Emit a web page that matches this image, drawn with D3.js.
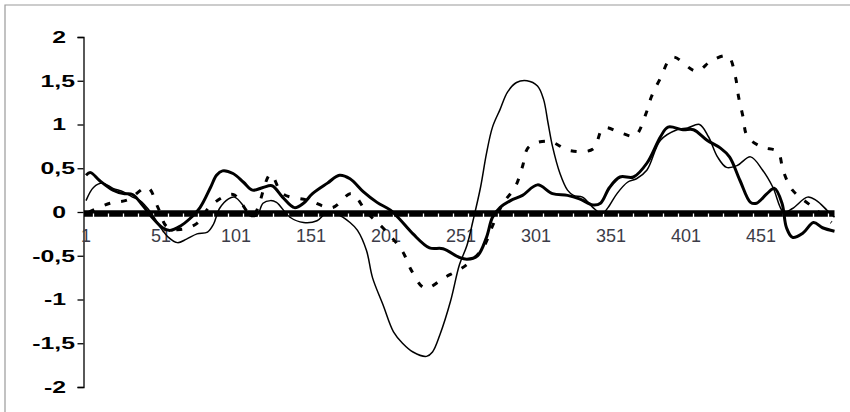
<!DOCTYPE html>
<html>
<head>
<meta charset="utf-8">
<script src="https://cdn.jsdelivr.net/npm/d3@7"></script>
<style>
    body { margin: 0; background: #fff; }
    svg { display: block; }
</style>
</head>
<body>
<div id="chart"></div>
<script>
// values, [position, value]
const thinLine = [
    [1, 0.13], [6, 0.28], [12, 0.33], [19, 0.27], [26, 0.23], [32, 0.17], [37, 0.13], [44, 0],
    [50, -0.16], [56, -0.29], [62, -0.35], [68, -0.31], [75, -0.25], [82, -0.23], [86, -0.14],
    [90, 0.04], [96, 0.15], [100, 0.17], [106, 0.07], [110, -0.04], [115, -0.04], [119, 0.1],
    [124, 0.13], [128, 0.11], [137, -0.06], [146, -0.12], [155, -0.1], [162, 0], [168, -0.02],
    [177, -0.12], [182, -0.21], [188, -0.44], [192, -0.75], [199, -1.06], [206, -1.37],
    [212, -1.5], [219, -1.6], [228, -1.65], [232, -1.6], [237, -1.4], [244, -1.02], [250, -0.6],
    [255, -0.38], [259, -0.1], [264, 0.28], [268, 0.67], [272, 0.97], [277, 1.17], [282, 1.37],
    [288, 1.48], [295, 1.5], [302, 1.44], [306, 1.29], [309, 1.02], [312, 0.75], [317, 0.44],
    [322, 0.25], [326, 0.19], [332, 0.17], [339, 0.05], [345, -0.02], [349, 0.05], [355, 0.21],
    [362, 0.34], [368, 0.38], [375, 0.48], [384, 0.82], [395, 0.94], [402, 0.96], [410, 1.0],
    [416, 0.86], [422, 0.63], [428, 0.51], [435, 0.53], [444, 0.63], [452, 0.48], [459, 0.28],
    [466, 0], [472, 0.04], [482, 0.17], [488, 0.13], [495, 0.02], [500, -0.06]
];

const thickLine = [
    [1, 0.42], [4, 0.45], [10, 0.36], [19, 0.25], [26, 0.21], [32, 0.2], [39, 0.07], [45, -0.06],
    [52, -0.18], [57, -0.21], [64, -0.16], [70, -0.08], [77, 0.05], [84, 0.28], [88, 0.42],
    [92, 0.47], [99, 0.44], [106, 0.34], [112, 0.25], [119, 0.28], [125, 0.3], [132, 0.17],
    [140, 0.05], [146, 0.1], [152, 0.21], [162, 0.33], [170, 0.42], [177, 0.38], [186, 0.23],
    [195, 0.11], [204, 0.02], [210, -0.08], [219, -0.25], [230, -0.41], [239, -0.42],
    [250, -0.52], [255, -0.54], [262, -0.5], [268, -0.29], [272, -0.06], [277, 0.05], [284, 0.13],
    [292, 0.19], [302, 0.31], [312, 0.21], [322, 0.19], [330, 0.15], [339, 0.08], [344, 0.1],
    [350, 0.28], [357, 0.4], [366, 0.4], [375, 0.56], [384, 0.86], [389, 0.97], [399, 0.94],
    [406, 0.94], [415, 0.82], [424, 0.73], [430, 0.63], [437, 0.36], [444, 0.11], [448, 0.1],
    [455, 0.21], [460, 0.27], [465, 0.1], [468, -0.18], [472, -0.29], [479, -0.24], [486, -0.12],
    [492, -0.18], [500, -0.22]
];

const dashedLine = [
    [3, 0], [17, 0.1], [29, 0.14], [42, 0.28], [49, 0.05], [55, -0.17], [64, -0.2], [75, -0.13],
    [84, 0.07], [99, 0.2], [112, -0.04], [124, 0.43], [132, 0.21], [150, 0.13], [165, 0.05],
    [178, 0.21], [188, 0], [200, -0.2], [212, -0.45], [218, -0.67], [227, -0.87], [240, -0.75],
    [255, -0.6], [266, -0.4], [272, -0.16], [279, 0.1], [287, 0.28], [292, 0.52], [296, 0.74],
    [309, 0.81], [324, 0.7], [339, 0.72], [346, 0.96], [358, 0.9], [367, 0.87], [374, 1.11],
    [378, 1.32], [384, 1.53], [392, 1.77], [408, 1.61], [418, 1.73], [429, 1.78], [434, 1.54],
    [436, 1.32], [439, 1.09], [442, 0.86], [452, 0.74], [462, 0.69], [466, 0.46], [472, 0.25],
    [486, 0.05], [498, -0.12]
];

const xTickLabels = [1, 51, 101, 151, 201, 251, 301, 351, 401, 451];
const yTicks = [2, 1.5, 1, 0.5, 0, -0.5, -1, -1.5, -2];

function createChart() {
    const width = 850;
    const height = 412;

    const svg = d3.select('#chart')
        .append('svg')
        .attr('width', width)
        .attr('height', height);

    // outer frame (only top and left show in the picture)
    svg.append('path')
        .attr('d', `M5,${height} V5 H${width}`)
        .attr('fill', 'none')
        .attr('stroke', '#9a9a9a')
        .attr('stroke-width', 1.2);

    const xScale = d3.scaleLinear().domain([1, 500]).range([86, 834.5]);
    const yScale = d3.scaleLinear().domain([-2, 2]).range([387, 37]);

    // y axis
    const yAxis = d3.axisLeft(yScale)
        .tickValues(yTicks)
        .tickSize(6)
        .tickFormat('');
    const yg = svg.append('g')
        .attr('transform', 'translate(83.5, 0)')
        .call(yAxis);
    yg.select('.domain').attr('stroke', '#000').attr('stroke-width', 1.3);
    yg.selectAll('.tick line').attr('stroke', '#000').attr('stroke-width', 1.3);

    svg.append('g')
        .selectAll('text')
        .data(yTicks)
        .join('text')
        .attr('transform', (d) => {
            const right = Number.isInteger(d) ? 66 : 75;
            return `translate(${right}, ${yScale(d)}) scale(1.55, 1)`;
        })
        .attr('dy', '0.36em')
        .attr('text-anchor', 'end')
        .attr('font-family', 'Liberation Sans, Arial, sans-serif')
        .attr('font-weight', 'bold')
        .attr('font-size', 16)
        .attr('fill', '#000')
        .text((d) => String(d).replace('.', ','));

    // heavy zero line with light tick marks
    const y0 = yScale(0) + 1.5;
    svg.append('line')
        .attr('x1', xScale(1) - 2)
        .attr('x2', xScale(500))
        .attr('y1', y0)
        .attr('y2', y0)
        .attr('stroke', '#000')
        .attr('stroke-width', 6.5);

    svg.append('g')
        .selectAll('line')
        .data(d3.range(6, 500, 10))
        .join('line')
        .attr('x1', (d) => xScale(d))
        .attr('x2', (d) => xScale(d))
        .attr('y1', y0)
        .attr('y2', y0 + 3.5)
        .attr('stroke', '#fff')
        .attr('stroke-width', 1.3);

    svg.append('g')
        .selectAll('text')
        .data(xTickLabels)
        .join('text')
        .attr('x', (d) => xScale(d))
        .attr('y', 242)
        .attr('text-anchor', 'middle')
        .attr('font-family', 'Liberation Sans, Arial, sans-serif')
        .attr('font-size', 18)
        .attr('fill', '#3c3c48')
        .text((d) => d);

    const line = d3.line()
        .x((d) => xScale(d[0]))
        .y((d) => yScale(d[1]))
        .curve(d3.curveCatmullRom.alpha(0.5));

    svg.append('path')
        .datum(dashedLine)
        .attr('d', line)
        .attr('fill', 'none')
        .attr('stroke', '#000')
        .attr('stroke-width', 3)
        .attr('stroke-dasharray', '6,11');

    svg.append('path')
        .datum(thinLine)
        .attr('d', line)
        .attr('fill', 'none')
        .attr('stroke', '#000')
        .attr('stroke-width', 1.5);

    svg.append('path')
        .datum(thickLine)
        .attr('d', line)
        .attr('fill', 'none')
        .attr('stroke', '#000')
        .attr('stroke-width', 3);
}

document.addEventListener('DOMContentLoaded', () => {
    createChart();
});
</script>
</body>
</html>
